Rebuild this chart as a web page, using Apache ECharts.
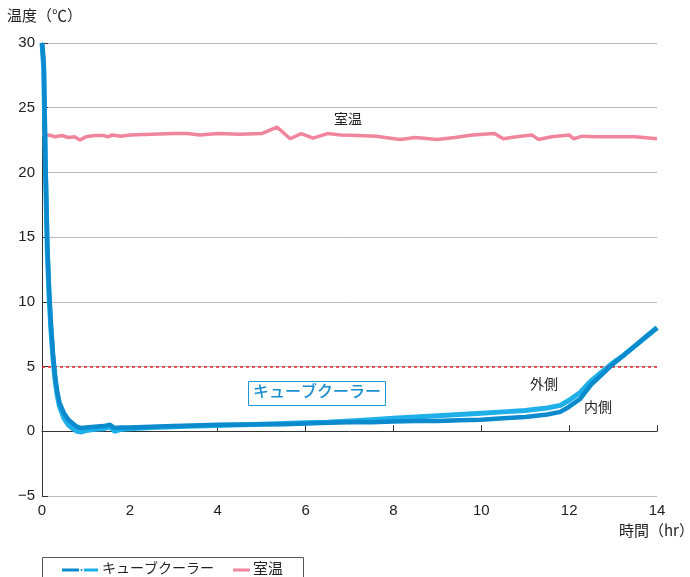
<!DOCTYPE html>
<html><head><meta charset="utf-8">
<script src="https://cdn.jsdelivr.net/npm/echarts@6/dist/echarts.min.js"></script>
<style>html,body{margin:0;padding:0;background:#fff}#c{width:690px;height:577px}</style>
</head><body><div id="c"></div>
<script>
// time (hr) for cube cooler series
const coolerTime = [0,0.04,0.08,0.12,0.16,0.2,0.25,0.3,0.35,0.4,0.5,0.6,0.7,0.8,0.9,1.0,1.2,1.4,1.55,1.65,1.8,2,2.5,3,3.5,4,4.5,5,5.5,6,6.5,7,7.5,8,8.5,9,9.5,10,10.5,11,11.5,11.8,12,12.25,12.5,12.75,13,13.25,13.5,13.75,14];
const outerTemp = [30,28,20,14,10.5,8.0,5.6,3.9,2.7,1.9,1.0,0.5,0.2,0.0,-0.05,0.05,0.15,0.2,0.35,0.0,0.15,0.2,0.3,0.35,0.4,0.45,0.5,0.55,0.6,0.65,0.7,0.8,0.9,1.0,1.1,1.2,1.3,1.4,1.5,1.6,1.8,2.0,2.4,3.0,3.9,4.6,5.3,5.9,6.6,7.3,8.0];
const innerTemp = [30,28.5,20.5,14.5,11,8.5,6.0,4.2,3.0,2.2,1.4,0.9,0.6,0.35,0.25,0.3,0.35,0.4,0.5,0.25,0.3,0.3,0.35,0.4,0.45,0.5,0.5,0.55,0.55,0.6,0.65,0.7,0.7,0.75,0.8,0.8,0.85,0.9,1.0,1.1,1.3,1.5,1.9,2.5,3.6,4.4,5.2,5.9,6.6,7.3,8.0];
// room temperature
const roomTime = [0,0.2,0.3,0.45,0.6,0.75,0.86,1.0,1.2,1.4,1.5,1.6,1.8,2.0,2.5,3.0,3.3,3.6,4.0,4.5,5.0,5.35,5.65,5.9,6.17,6.5,6.8,7.2,7.6,8.15,8.5,9.0,9.4,9.8,10.3,10.5,10.8,11.15,11.3,11.6,12.0,12.1,12.3,12.6,13.0,13.5,14];
const roomTemp = [22.95,22.85,22.75,22.85,22.7,22.75,22.5,22.75,22.85,22.85,22.75,22.9,22.8,22.9,22.95,23.0,23.0,22.9,23.0,22.95,23.0,23.5,22.6,23.0,22.65,23.0,22.9,22.85,22.8,22.55,22.7,22.55,22.7,22.9,23.0,22.6,22.75,22.9,22.55,22.75,22.9,22.6,22.8,22.75,22.75,22.75,22.6];
const yTicks = [-5,0,5,10,15,20,25,30];
const xTicks = [0,2,4,6,8,10,12,14];
const threshold = 5;

const zip = (xs, ys) => xs.map((x, i) => [x, ys[i]]);
const chart = echarts.init(document.getElementById('c'), null, {renderer: 'canvas'});
const FONT = '"Noto Sans CJK JP", "Noto Sans", sans-serif';
const NUMFONT = '"Liberation Sans", Arial, sans-serif';
chart.setOption({
  animation: false,
  grid: {left: 42, right: 33, top: 43, bottom: 81},
  xAxis: {
    type: 'value', min: xTicks[0], max: xTicks[xTicks.length - 1], interval: 2,
    axisLine: {show: true, lineStyle: {color: '#333', width: 1}},
    axisTick: {show: true, inside: true, length: 6, lineStyle: {color: '#333'}},
    axisLabel: {color: '#222', fontSize: 15, fontFamily: NUMFONT, margin: 7},
    splitLine: {show: false}
  },
  yAxis: {
    type: 'value', min: yTicks[0], max: yTicks[yTicks.length - 1], interval: 5,
    axisLine: {show: true, lineStyle: {color: '#333', width: 1}},
    axisTick: {show: true, inside: true, length: 6, lineStyle: {color: '#333'}},
    axisLabel: {color: '#222', fontSize: 15, fontFamily: NUMFONT, margin: 7,
      formatter: v => String(v).replace('-', '\u2212')},
    splitLine: {show: true, lineStyle: {color: '#bbb', width: 1}}
  },
  series: [
    {type: 'line', name: '室温', data: zip(roomTime, roomTemp), showSymbol: false,
     lineStyle: {color: '#f0859b', width: 3.5}, z: 3},
    {type: 'line', name: '外側', data: zip(coolerTime, outerTemp), showSymbol: false,
     lineStyle: {color: '#1fb0ea', width: 5}, z: 4,
     markLine: {symbol: 'none', silent: true, label: {show: false},
       lineStyle: {color: '#e8202a', type: [3, 3], width: 1.5},
       data: [{yAxis: threshold}]}},
    {type: 'line', name: '内側', data: zip(coolerTime, innerTemp), showSymbol: false,
     lineStyle: {color: '#0b8acd', width: 4.5}, z: 5}
  ],
  graphic: [
    {type: 'text', left: 7, top: 8, style: {text: '温度（℃）', font: '15px ' + FONT, fill: '#222'}},
    {type: 'text', left: 619, top: 523, style: {text: '時間（hr）', font: '15px ' + FONT, fill: '#222'}},
    {type: 'text', left: 334, top: 112, style: {text: '室温', font: '14px ' + FONT, fill: '#222'}},
    {type: 'text', left: 530, top: 377, style: {text: '外側', font: '14px ' + FONT, fill: '#222'}},
    {type: 'text', left: 584, top: 400, style: {text: '内側', font: '14px ' + FONT, fill: '#222'}},
    {type: 'rect', shape: {x: 248.5, y: 381.5, width: 137, height: 24}, style: {fill: '#fff', stroke: '#1a9ad8', lineWidth: 1}, z: 10},
    {type: 'text', left: 253, top: 383, z: 11, style: {text: 'キューブクーラー', font: '500 16px ' + FONT, fill: '#1a8fd0'}},
    {type: 'rect', shape: {x: 42.5, y: 557.5, width: 261, height: 30}, style: {fill: 'none', stroke: '#555', lineWidth: 1}},
    {type: 'line', shape: {x1: 62, y1: 570, x2: 79, y2: 570}, style: {stroke: '#0b8acd', lineWidth: 3}},
    {type: 'circle', shape: {cx: 81.5, cy: 570, r: 1}, style: {fill: '#0b8acd'}},
    {type: 'line', shape: {x1: 84, y1: 570, x2: 98, y2: 570}, style: {stroke: '#1fb0ea', lineWidth: 3}},
    {type: 'text', left: 102, top: 561, style: {text: 'キューブクーラー', font: '14px ' + FONT, fill: '#222'}},
    {type: 'line', shape: {x1: 233, y1: 570, x2: 250, y2: 570}, style: {stroke: '#f0859b', lineWidth: 3}},
    {type: 'text', left: 253, top: 561, style: {text: '室温', font: '15px ' + FONT, fill: '#222'}}
  ]
});
</script></body></html>
